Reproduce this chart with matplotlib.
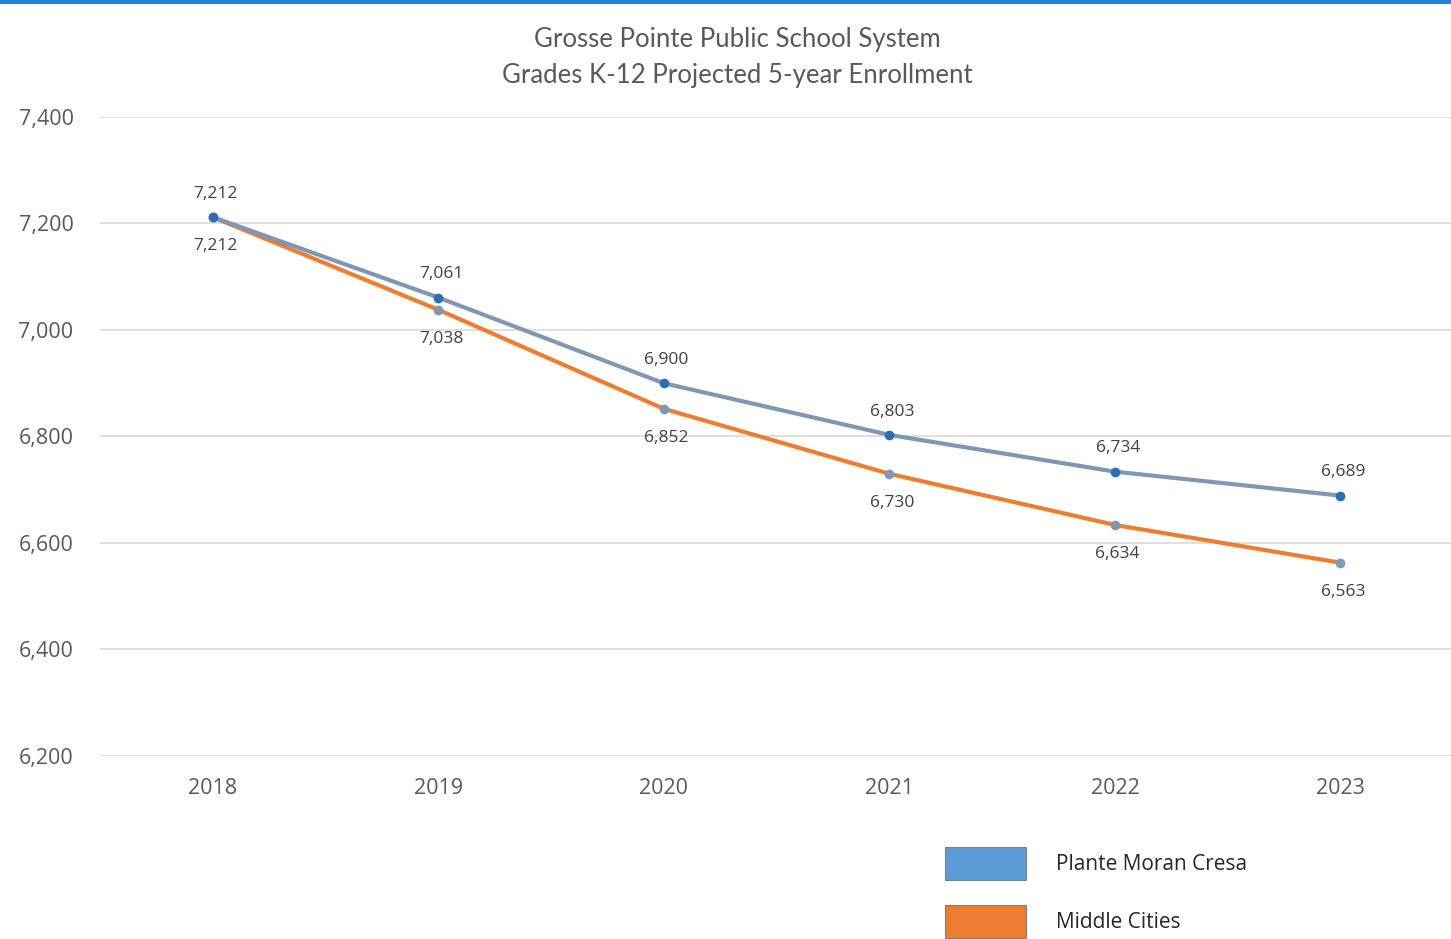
import matplotlib
matplotlib.use("Agg")
import matplotlib.pyplot as plt
from matplotlib.patches import Patch, Rectangle

years = ["2018", "2019", "2020", "2021", "2022", "2023"]
plante_moran = [7212, 7061, 6900, 6803, 6734, 6689]
middle_cities = [7212, 7038, 6852, 6730, 6634, 6563]
y_ticks = [6200, 6400, 6600, 6800, 7000, 7200, 7400]
series_names = ["Plante Moran Cresa", "Middle Cities"]
title_lines = ["Grosse Pointe Public School System", "Grades K-12 Projected 5-year Enrollment"]

W, H = 1451, 939
fig = plt.figure(figsize=(W / 100, H / 100), dpi=100)
fig.patch.set_facecolor("white")

# top blue band
fig.patches.append(Rectangle((0, 1 - 4 / H), 1, 4 / H, transform=fig.transFigure,
                             facecolor="#2185d9", edgecolor="none"))

ax = fig.add_axes([100 / W, 1 - 756 / H, 1 - 100 / W, (756 - 117) / H])
x = list(range(len(years)))

ax.plot(x, middle_cities, color="#ed7d31", lw=3, marker="o", ms=6,
        mfc="#8497b0", mec="#8497b0", zorder=3, solid_capstyle="round")
ax.plot(x, plante_moran, color="#7f96b5", lw=3, marker="o", ms=6,
        mfc="#2e6db4", mec="#2e6db4", zorder=4, solid_capstyle="round")

for xi, v in zip(x, plante_moran):
    ax.annotate(f"{v:,}", (xi, v), xytext=(2, 11), textcoords="offset points",
                ha="center", va="bottom", fontsize=12.5, color="#404040", family="Open Sans")
for xi, v in zip(x, middle_cities):
    ax.annotate(f"{v:,}", (xi, v), xytext=(2, -15), textcoords="offset points",
                ha="center", va="top", fontsize=12.5, color="#404040", family="Open Sans")

ax.set_ylim(6200, 7400)
ax.set_xlim(-0.5, 5.49)
ax.set_yticks(y_ticks)
ax.set_yticklabels([f"{t:,}" for t in y_ticks])
ax.set_xticks(x)
ax.set_xticklabels(years)
ax.tick_params(axis="both", length=0, labelsize=15.5, labelcolor="#595959")
ax.tick_params(axis="y", pad=19)
ax.tick_params(axis="x", pad=16)
for lab in ax.get_xticklabels() + ax.get_yticklabels():
    lab.set_family("Open Sans")
ax.grid(axis="y", color="#d9d9d9", lw=1.2)
ax.set_axisbelow(True)
for s in ax.spines.values():
    s.set_visible(False)

fig.text(737 / W, 1 - 40 / H, title_lines[0], ha="center", va="center",
         fontsize=18.5, color="#595959", family="Lato")
fig.text(737 / W, 1 - 75 / H, title_lines[1], ha="center", va="center",
         fontsize=18.5, color="#595959", family="Lato")

handles = [Patch(facecolor="#5b9bd5", edgecolor="#7f7f7f", lw=0.8),
           Patch(facecolor="#ed7d31", edgecolor="#7f7f7f", lw=0.8)]
leg = fig.legend(handles, series_names, loc="upper left",
                 bbox_to_anchor=(945 / W, 1 - 847 / H), frameon=False,
                 borderpad=0, borderaxespad=0, handlelength=3.9, handleheight=2.05,
                 labelspacing=1.2, handletextpad=1.45,
                 prop={"family": "Open Sans", "size": 15})
for t in leg.get_texts():
    t.set_color("#262626")

fig.savefig("out.png", dpi=100, facecolor="white")
